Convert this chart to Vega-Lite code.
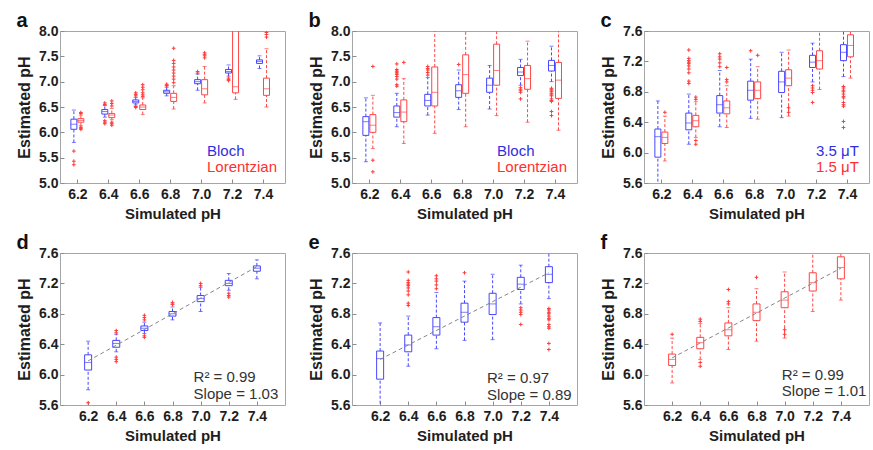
{
  "$schema": "https://vega.github.io/schema/vega-lite/v6.json",
  "padding": {"left": 16, "top": 10, "right": 0, "bottom": 0},
  "background": "white",
  "config": {
    "font": "Liberation Sans",
    "view": {"stroke": "#a6a6a6", "strokeWidth": 1},
    "axis": {"domain": false, "grid": false, "tickSize": 4, "offset": -4, "tickColor": "#8c8c8c", "labelOverlap": false, "labelFont": "Liberation Sans", "labelFontSize": 14, "labelFontWeight": "bold", "labelColor": "#1e1e1e", "titleFont": "Liberation Sans", "titleFontSize": 15, "titleFontWeight": "bold", "titleColor": "#1e1e1e"},
    "axisX": {"labelPadding": 4, "titlePadding": 5},
    "axisY": {"labelPadding": 2, "titlePadding": 6, "titleFontSize": 16},
    "legend": {"title": null, "orient": "none", "labelFont": "Liberation Sans", "symbolSize": 1, "symbolStrokeWidth": 0, "symbolOpacity": 0, "labelOffset": 1, "rowPadding": -6, "padding": 0, "labelLimit": 300},
    "title": {"fontSize": 20, "fontWeight": "bold", "anchor": "start", "frame": "bounds", "offset": -7, "color": "#111111", "font": "Liberation Sans"}
  },
  "datasets": {
    "boxes": [
      {"panel":"a","series":"Bloch","sim":6.2,"lo":5.80,"q1":6.06,"med":6.16,"q3":6.26,"hi":6.44},
      {"panel":"a","series":"Bloch","sim":6.4,"lo":6.30,"q1":6.36,"med":6.41,"q3":6.45,"hi":6.53},
      {"panel":"a","series":"Bloch","sim":6.6,"lo":6.54,"q1":6.58,"med":6.61,"q3":6.64,"hi":6.69},
      {"panel":"a","series":"Bloch","sim":6.8,"lo":6.72,"q1":6.77,"med":6.80,"q3":6.83,"hi":6.89},
      {"panel":"a","series":"Bloch","sim":7.0,"lo":6.83,"q1":6.96,"med":7.00,"q3":7.04,"hi":7.15},
      {"panel":"a","series":"Bloch","sim":7.2,"lo":7.11,"q1":7.17,"med":7.20,"q3":7.24,"hi":7.33},
      {"panel":"a","series":"Bloch","sim":7.4,"lo":7.26,"q1":7.36,"med":7.40,"q3":7.43,"hi":7.51},
      {"panel":"a","series":"Lorentzian","sim":6.2,"lo":6.13,"q1":6.20,"med":6.235,"q3":6.27,"hi":6.34},
      {"panel":"a","series":"Lorentzian","sim":6.4,"lo":6.25,"q1":6.29,"med":6.34,"q3":6.37,"hi":6.47},
      {"panel":"a","series":"Lorentzian","sim":6.6,"lo":6.35,"q1":6.45,"med":6.50,"q3":6.54,"hi":6.68},
      {"panel":"a","series":"Lorentzian","sim":6.8,"lo":6.46,"q1":6.61,"med":6.69,"q3":6.77,"hi":6.92},
      {"panel":"a","series":"Lorentzian","sim":7.0,"lo":6.58,"q1":6.74,"med":6.86,"q3":7.04,"hi":7.30},
      {"panel":"a","series":"Lorentzian","sim":7.2,"lo":6.65,"q1":6.78,"med":6.90,"q3":8.60,"hi":9.50},
      {"panel":"a","series":"Lorentzian","sim":7.4,"lo":6.50,"q1":6.73,"med":6.86,"q3":7.07,"hi":7.65},
      {"panel":"b","series":"Bloch","sim":6.2,"lo":5.42,"q1":5.94,"med":6.21,"q3":6.31,"hi":6.68},
      {"panel":"b","series":"Bloch","sim":6.4,"lo":6.11,"q1":6.30,"med":6.39,"q3":6.52,"hi":6.77},
      {"panel":"b","series":"Bloch","sim":6.6,"lo":6.34,"q1":6.52,"med":6.63,"q3":6.75,"hi":7.08},
      {"panel":"b","series":"Bloch","sim":6.8,"lo":6.45,"q1":6.69,"med":6.82,"q3":6.94,"hi":7.23},
      {"panel":"b","series":"Bloch","sim":7.0,"lo":6.46,"q1":6.79,"med":6.93,"q3":7.07,"hi":7.32},
      {"panel":"b","series":"Bloch","sim":7.2,"lo":6.93,"q1":7.12,"med":7.19,"q3":7.28,"hi":7.44},
      {"panel":"b","series":"Bloch","sim":7.4,"lo":7.00,"q1":7.21,"med":7.32,"q3":7.42,"hi":7.70},
      {"panel":"b","series":"Lorentzian","sim":6.2,"lo":5.68,"q1":6.00,"med":6.14,"q3":6.35,"hi":6.73},
      {"panel":"b","series":"Lorentzian","sim":6.4,"lo":5.78,"q1":6.21,"med":6.40,"q3":6.64,"hi":7.06},
      {"panel":"b","series":"Lorentzian","sim":6.6,"lo":5.98,"q1":6.52,"med":6.79,"q3":7.29,"hi":8.30},
      {"panel":"b","series":"Lorentzian","sim":6.8,"lo":6.11,"q1":6.77,"med":7.14,"q3":7.53,"hi":8.50},
      {"panel":"b","series":"Lorentzian","sim":7.0,"lo":6.33,"q1":6.93,"med":7.22,"q3":7.74,"hi":8.60},
      {"panel":"b","series":"Lorentzian","sim":7.2,"lo":6.20,"q1":6.85,"med":7.06,"q3":7.32,"hi":7.80},
      {"panel":"b","series":"Lorentzian","sim":7.4,"lo":6.04,"q1":6.67,"med":7.03,"q3":7.38,"hi":8.50},
      {"panel":"c","series":"3.5 μT","sim":6.2,"lo":5.42,"q1":5.94,"med":6.21,"q3":6.31,"hi":6.68},
      {"panel":"c","series":"3.5 μT","sim":6.4,"lo":6.11,"q1":6.30,"med":6.39,"q3":6.52,"hi":6.77},
      {"panel":"c","series":"3.5 μT","sim":6.6,"lo":6.34,"q1":6.52,"med":6.63,"q3":6.75,"hi":7.08},
      {"panel":"c","series":"3.5 μT","sim":6.8,"lo":6.45,"q1":6.69,"med":6.82,"q3":6.94,"hi":7.23},
      {"panel":"c","series":"3.5 μT","sim":7.0,"lo":6.46,"q1":6.79,"med":6.93,"q3":7.07,"hi":7.32},
      {"panel":"c","series":"3.5 μT","sim":7.2,"lo":6.93,"q1":7.12,"med":7.19,"q3":7.28,"hi":7.44},
      {"panel":"c","series":"3.5 μT","sim":7.4,"lo":7.00,"q1":7.21,"med":7.32,"q3":7.42,"hi":7.70},
      {"panel":"c","series":"1.5 μT","sim":6.2,"lo":5.89,"q1":6.12,"med":6.20,"q3":6.27,"hi":6.48},
      {"panel":"c","series":"1.5 μT","sim":6.4,"lo":6.20,"q1":6.34,"med":6.42,"q3":6.49,"hi":6.67},
      {"panel":"c","series":"1.5 μT","sim":6.6,"lo":6.33,"q1":6.51,"med":6.59,"q3":6.68,"hi":6.88},
      {"panel":"c","series":"1.5 μT","sim":6.8,"lo":6.44,"q1":6.71,"med":6.82,"q3":6.93,"hi":7.13},
      {"panel":"c","series":"1.5 μT","sim":7.0,"lo":6.48,"q1":6.88,"med":6.98,"q3":7.09,"hi":7.35},
      {"panel":"c","series":"1.5 μT","sim":7.2,"lo":6.83,"q1":7.10,"med":7.21,"q3":7.34,"hi":7.75},
      {"panel":"c","series":"1.5 μT","sim":7.4,"lo":6.98,"q1":7.26,"med":7.41,"q3":7.55,"hi":7.90},
      {"panel":"d","series":"Bloch","sim":6.2,"lo":5.80,"q1":6.06,"med":6.16,"q3":6.26,"hi":6.44},
      {"panel":"d","series":"Bloch","sim":6.4,"lo":6.30,"q1":6.36,"med":6.41,"q3":6.45,"hi":6.53},
      {"panel":"d","series":"Bloch","sim":6.6,"lo":6.54,"q1":6.58,"med":6.61,"q3":6.64,"hi":6.69},
      {"panel":"d","series":"Bloch","sim":6.8,"lo":6.72,"q1":6.77,"med":6.80,"q3":6.83,"hi":6.89},
      {"panel":"d","series":"Bloch","sim":7.0,"lo":6.83,"q1":6.96,"med":7.00,"q3":7.04,"hi":7.15},
      {"panel":"d","series":"Bloch","sim":7.2,"lo":7.11,"q1":7.17,"med":7.20,"q3":7.24,"hi":7.33},
      {"panel":"d","series":"Bloch","sim":7.4,"lo":7.26,"q1":7.36,"med":7.40,"q3":7.43,"hi":7.51},
      {"panel":"e","series":"3.5 μT","sim":6.2,"lo":5.42,"q1":5.94,"med":6.21,"q3":6.31,"hi":6.68},
      {"panel":"e","series":"3.5 μT","sim":6.4,"lo":6.11,"q1":6.30,"med":6.39,"q3":6.52,"hi":6.77},
      {"panel":"e","series":"3.5 μT","sim":6.6,"lo":6.34,"q1":6.52,"med":6.63,"q3":6.75,"hi":7.08},
      {"panel":"e","series":"3.5 μT","sim":6.8,"lo":6.45,"q1":6.69,"med":6.82,"q3":6.94,"hi":7.23},
      {"panel":"e","series":"3.5 μT","sim":7.0,"lo":6.46,"q1":6.79,"med":6.93,"q3":7.07,"hi":7.32},
      {"panel":"e","series":"3.5 μT","sim":7.2,"lo":6.93,"q1":7.12,"med":7.19,"q3":7.28,"hi":7.44},
      {"panel":"e","series":"3.5 μT","sim":7.4,"lo":7.00,"q1":7.21,"med":7.32,"q3":7.42,"hi":7.70},
      {"panel":"f","series":"1.5 μT","sim":6.2,"lo":5.89,"q1":6.12,"med":6.20,"q3":6.27,"hi":6.48},
      {"panel":"f","series":"1.5 μT","sim":6.4,"lo":6.20,"q1":6.34,"med":6.42,"q3":6.49,"hi":6.67},
      {"panel":"f","series":"1.5 μT","sim":6.6,"lo":6.33,"q1":6.51,"med":6.59,"q3":6.68,"hi":6.88},
      {"panel":"f","series":"1.5 μT","sim":6.8,"lo":6.44,"q1":6.71,"med":6.82,"q3":6.93,"hi":7.13},
      {"panel":"f","series":"1.5 μT","sim":7.0,"lo":6.48,"q1":6.88,"med":6.98,"q3":7.09,"hi":7.35},
      {"panel":"f","series":"1.5 μT","sim":7.2,"lo":6.83,"q1":7.10,"med":7.21,"q3":7.34,"hi":7.75},
      {"panel":"f","series":"1.5 μT","sim":7.4,"lo":6.98,"q1":7.26,"med":7.41,"q3":7.55,"hi":7.90}
    ],
    "outliers": [
      {"panel":"a","series":"Bloch","sim":6.2,"v":5.63},{"panel":"a","series":"Bloch","sim":6.2,"v":5.43},{"panel":"a","series":"Bloch","sim":6.2,"v":5.36},
      {"panel":"a","series":"Bloch","sim":6.4,"v":6.58},{"panel":"a","series":"Bloch","sim":6.4,"v":6.55},{"panel":"a","series":"Bloch","sim":6.4,"v":6.23},{"panel":"a","series":"Bloch","sim":6.4,"v":6.20},{"panel":"a","series":"Bloch","sim":6.4,"v":6.17},
      {"panel":"a","series":"Bloch","sim":6.6,"v":6.78},{"panel":"a","series":"Bloch","sim":6.6,"v":6.75},{"panel":"a","series":"Bloch","sim":6.6,"v":6.72},{"panel":"a","series":"Bloch","sim":6.6,"v":6.51},{"panel":"a","series":"Bloch","sim":6.6,"v":6.49},
      {"panel":"a","series":"Bloch","sim":6.8,"v":6.95},{"panel":"a","series":"Bloch","sim":6.8,"v":6.93},{"panel":"a","series":"Bloch","sim":6.8,"v":6.92},
      {"panel":"a","series":"Bloch","sim":7.0,"v":7.20},{"panel":"a","series":"Bloch","sim":7.0,"v":7.17},
      {"panel":"a","series":"Bloch","sim":7.2,"v":7.07},{"panel":"a","series":"Bloch","sim":7.2,"v":7.04},{"panel":"a","series":"Bloch","sim":7.2,"v":7.02},
      {"panel":"a","series":"Lorentzian","sim":6.2,"v":6.39},{"panel":"a","series":"Lorentzian","sim":6.2,"v":6.37},{"panel":"a","series":"Lorentzian","sim":6.2,"v":6.10},{"panel":"a","series":"Lorentzian","sim":6.2,"v":6.08},{"panel":"a","series":"Lorentzian","sim":6.2,"v":6.06},
      {"panel":"a","series":"Lorentzian","sim":6.4,"v":6.52},{"panel":"a","series":"Lorentzian","sim":6.4,"v":6.57},{"panel":"a","series":"Lorentzian","sim":6.4,"v":6.62},{"panel":"a","series":"Lorentzian","sim":6.4,"v":6.20},{"panel":"a","series":"Lorentzian","sim":6.4,"v":6.17},{"panel":"a","series":"Lorentzian","sim":6.4,"v":6.14},
      {"panel":"a","series":"Lorentzian","sim":6.6,"v":6.71},{"panel":"a","series":"Lorentzian","sim":6.6,"v":6.74},{"panel":"a","series":"Lorentzian","sim":6.6,"v":6.78},{"panel":"a","series":"Lorentzian","sim":6.6,"v":6.84},{"panel":"a","series":"Lorentzian","sim":6.6,"v":6.89},{"panel":"a","series":"Lorentzian","sim":6.6,"v":6.94},
      {"panel":"a","series":"Lorentzian","sim":6.8,"v":6.98},{"panel":"a","series":"Lorentzian","sim":6.8,"v":7.05},{"panel":"a","series":"Lorentzian","sim":6.8,"v":7.11},{"panel":"a","series":"Lorentzian","sim":6.8,"v":7.17},{"panel":"a","series":"Lorentzian","sim":6.8,"v":7.23},{"panel":"a","series":"Lorentzian","sim":6.8,"v":7.29},{"panel":"a","series":"Lorentzian","sim":6.8,"v":7.36},{"panel":"a","series":"Lorentzian","sim":6.8,"v":7.42},{"panel":"a","series":"Lorentzian","sim":6.8,"v":7.66},
      {"panel":"a","series":"Lorentzian","sim":7.0,"v":7.47},{"panel":"a","series":"Lorentzian","sim":7.0,"v":7.51},{"panel":"a","series":"Lorentzian","sim":7.0,"v":7.54},{"panel":"a","series":"Lorentzian","sim":7.0,"v":7.57},
      {"panel":"a","series":"Lorentzian","sim":7.4,"v":7.88},{"panel":"a","series":"Lorentzian","sim":7.4,"v":7.93},{"panel":"a","series":"Lorentzian","sim":7.4,"v":7.97},
      {"panel":"b","series":"Bloch","sim":6.4,"v":6.91},{"panel":"b","series":"Bloch","sim":6.4,"v":6.94},{"panel":"b","series":"Bloch","sim":6.4,"v":7.05},{"panel":"b","series":"Bloch","sim":6.4,"v":7.10},{"panel":"b","series":"Bloch","sim":6.4,"v":7.14},{"panel":"b","series":"Bloch","sim":6.4,"v":7.17},{"panel":"b","series":"Bloch","sim":6.4,"v":7.19},{"panel":"b","series":"Bloch","sim":6.4,"v":7.21},{"panel":"b","series":"Bloch","sim":6.4,"v":7.24},{"panel":"b","series":"Bloch","sim":6.4,"v":7.35},
      {"panel":"b","series":"Bloch","sim":6.6,"v":7.13},{"panel":"b","series":"Bloch","sim":6.6,"v":7.18},{"panel":"b","series":"Bloch","sim":6.6,"v":7.23},{"panel":"b","series":"Bloch","sim":6.6,"v":7.26},{"panel":"b","series":"Bloch","sim":6.6,"v":7.30},
      {"panel":"b","series":"Bloch","sim":6.8,"v":7.34},
      {"panel":"b","series":"Bloch","sim":7.2,"v":6.88},{"panel":"b","series":"Bloch","sim":7.2,"v":6.85},{"panel":"b","series":"Bloch","sim":7.2,"v":6.82},{"panel":"b","series":"Bloch","sim":7.2,"v":6.79},{"panel":"b","series":"Bloch","sim":7.2,"v":6.66},
      {"panel":"b","series":"Bloch","sim":7.4,"v":6.87},{"panel":"b","series":"Bloch","sim":7.4,"v":6.85},{"panel":"b","series":"Bloch","sim":7.4,"v":6.82},{"panel":"b","series":"Bloch","sim":7.4,"v":6.80},{"panel":"b","series":"Bloch","sim":7.4,"v":6.77},{"panel":"b","series":"Bloch","sim":7.4,"v":6.74},{"panel":"b","series":"Bloch","sim":7.4,"v":6.72},{"panel":"b","series":"Bloch","sim":7.4,"v":6.66},{"panel":"b","series":"Bloch","sim":7.4,"v":6.63},{"panel":"b","series":"Bloch","sim":7.4,"v":6.61},{"panel":"b","series":"Bloch","sim":7.4,"v":6.41},{"panel":"b","series":"Bloch","sim":7.4,"v":6.33},
      {"panel":"b","series":"Lorentzian","sim":6.2,"v":7.30},{"panel":"b","series":"Lorentzian","sim":6.2,"v":5.45},{"panel":"b","series":"Lorentzian","sim":6.2,"v":5.22},
      {"panel":"b","series":"Lorentzian","sim":6.4,"v":7.38},
      {"panel":"c","series":"3.5 μT","sim":6.4,"v":6.91},{"panel":"c","series":"3.5 μT","sim":6.4,"v":6.94},{"panel":"c","series":"3.5 μT","sim":6.4,"v":7.05},{"panel":"c","series":"3.5 μT","sim":6.4,"v":7.10},{"panel":"c","series":"3.5 μT","sim":6.4,"v":7.14},{"panel":"c","series":"3.5 μT","sim":6.4,"v":7.17},{"panel":"c","series":"3.5 μT","sim":6.4,"v":7.19},{"panel":"c","series":"3.5 μT","sim":6.4,"v":7.21},{"panel":"c","series":"3.5 μT","sim":6.4,"v":7.24},{"panel":"c","series":"3.5 μT","sim":6.4,"v":7.35},
      {"panel":"c","series":"3.5 μT","sim":6.6,"v":7.13},{"panel":"c","series":"3.5 μT","sim":6.6,"v":7.18},{"panel":"c","series":"3.5 μT","sim":6.6,"v":7.23},{"panel":"c","series":"3.5 μT","sim":6.6,"v":7.26},{"panel":"c","series":"3.5 μT","sim":6.6,"v":7.30},
      {"panel":"c","series":"3.5 μT","sim":6.8,"v":7.34},
      {"panel":"c","series":"3.5 μT","sim":7.2,"v":6.88},{"panel":"c","series":"3.5 μT","sim":7.2,"v":6.85},{"panel":"c","series":"3.5 μT","sim":7.2,"v":6.82},{"panel":"c","series":"3.5 μT","sim":7.2,"v":6.79},{"panel":"c","series":"3.5 μT","sim":7.2,"v":6.66},
      {"panel":"c","series":"3.5 μT","sim":7.4,"v":6.87},{"panel":"c","series":"3.5 μT","sim":7.4,"v":6.85},{"panel":"c","series":"3.5 μT","sim":7.4,"v":6.82},{"panel":"c","series":"3.5 μT","sim":7.4,"v":6.80},{"panel":"c","series":"3.5 μT","sim":7.4,"v":6.77},{"panel":"c","series":"3.5 μT","sim":7.4,"v":6.74},{"panel":"c","series":"3.5 μT","sim":7.4,"v":6.72},{"panel":"c","series":"3.5 μT","sim":7.4,"v":6.66},{"panel":"c","series":"3.5 μT","sim":7.4,"v":6.63},{"panel":"c","series":"3.5 μT","sim":7.4,"v":6.61},{"panel":"c","series":"3.5 μT","sim":7.4,"v":6.41},{"panel":"c","series":"3.5 μT","sim":7.4,"v":6.33},
      {"panel":"c","series":"1.5 μT","sim":6.2,"v":6.53},
      {"panel":"c","series":"1.5 μT","sim":6.4,"v":6.70},{"panel":"c","series":"1.5 μT","sim":6.4,"v":6.73},{"panel":"c","series":"1.5 μT","sim":6.4,"v":6.16},{"panel":"c","series":"1.5 μT","sim":6.4,"v":6.11},
      {"panel":"c","series":"1.5 μT","sim":6.6,"v":6.93},{"panel":"c","series":"1.5 μT","sim":6.6,"v":6.96},{"panel":"c","series":"1.5 μT","sim":6.6,"v":7.12},
      {"panel":"c","series":"1.5 μT","sim":6.8,"v":7.28},
      {"panel":"c","series":"1.5 μT","sim":7.0,"v":6.59},{"panel":"c","series":"1.5 μT","sim":7.0,"v":6.53},
      {"panel":"d","series":"Bloch","sim":6.2,"v":5.63},
      {"panel":"d","series":"Bloch","sim":6.4,"v":6.58},{"panel":"d","series":"Bloch","sim":6.4,"v":6.55},{"panel":"d","series":"Bloch","sim":6.4,"v":6.23},{"panel":"d","series":"Bloch","sim":6.4,"v":6.20},{"panel":"d","series":"Bloch","sim":6.4,"v":6.17},
      {"panel":"d","series":"Bloch","sim":6.6,"v":6.78},{"panel":"d","series":"Bloch","sim":6.6,"v":6.75},{"panel":"d","series":"Bloch","sim":6.6,"v":6.72},{"panel":"d","series":"Bloch","sim":6.6,"v":6.51},{"panel":"d","series":"Bloch","sim":6.6,"v":6.49},
      {"panel":"d","series":"Bloch","sim":6.8,"v":6.95},{"panel":"d","series":"Bloch","sim":6.8,"v":6.93},{"panel":"d","series":"Bloch","sim":6.8,"v":6.92},
      {"panel":"d","series":"Bloch","sim":7.0,"v":7.20},{"panel":"d","series":"Bloch","sim":7.0,"v":7.17},
      {"panel":"d","series":"Bloch","sim":7.2,"v":7.07},{"panel":"d","series":"Bloch","sim":7.2,"v":7.04},{"panel":"d","series":"Bloch","sim":7.2,"v":7.02},
      {"panel":"e","series":"3.5 μT","sim":6.4,"v":6.91},{"panel":"e","series":"3.5 μT","sim":6.4,"v":6.94},{"panel":"e","series":"3.5 μT","sim":6.4,"v":7.05},{"panel":"e","series":"3.5 μT","sim":6.4,"v":7.10},{"panel":"e","series":"3.5 μT","sim":6.4,"v":7.14},{"panel":"e","series":"3.5 μT","sim":6.4,"v":7.17},{"panel":"e","series":"3.5 μT","sim":6.4,"v":7.19},{"panel":"e","series":"3.5 μT","sim":6.4,"v":7.21},{"panel":"e","series":"3.5 μT","sim":6.4,"v":7.24},{"panel":"e","series":"3.5 μT","sim":6.4,"v":7.35},
      {"panel":"e","series":"3.5 μT","sim":6.6,"v":7.13},{"panel":"e","series":"3.5 μT","sim":6.6,"v":7.18},{"panel":"e","series":"3.5 μT","sim":6.6,"v":7.23},{"panel":"e","series":"3.5 μT","sim":6.6,"v":7.26},{"panel":"e","series":"3.5 μT","sim":6.6,"v":7.30},
      {"panel":"e","series":"3.5 μT","sim":6.8,"v":7.34},
      {"panel":"e","series":"3.5 μT","sim":7.2,"v":6.88},{"panel":"e","series":"3.5 μT","sim":7.2,"v":6.85},{"panel":"e","series":"3.5 μT","sim":7.2,"v":6.82},{"panel":"e","series":"3.5 μT","sim":7.2,"v":6.79},{"panel":"e","series":"3.5 μT","sim":7.2,"v":6.66},
      {"panel":"e","series":"3.5 μT","sim":7.4,"v":6.87},{"panel":"e","series":"3.5 μT","sim":7.4,"v":6.85},{"panel":"e","series":"3.5 μT","sim":7.4,"v":6.82},{"panel":"e","series":"3.5 μT","sim":7.4,"v":6.80},{"panel":"e","series":"3.5 μT","sim":7.4,"v":6.77},{"panel":"e","series":"3.5 μT","sim":7.4,"v":6.74},{"panel":"e","series":"3.5 μT","sim":7.4,"v":6.72},{"panel":"e","series":"3.5 μT","sim":7.4,"v":6.66},{"panel":"e","series":"3.5 μT","sim":7.4,"v":6.63},{"panel":"e","series":"3.5 μT","sim":7.4,"v":6.61},{"panel":"e","series":"3.5 μT","sim":7.4,"v":6.41},{"panel":"e","series":"3.5 μT","sim":7.4,"v":6.33},
      {"panel":"f","series":"1.5 μT","sim":6.2,"v":6.53},
      {"panel":"f","series":"1.5 μT","sim":6.4,"v":6.70},{"panel":"f","series":"1.5 μT","sim":6.4,"v":6.73},{"panel":"f","series":"1.5 μT","sim":6.4,"v":6.16},{"panel":"f","series":"1.5 μT","sim":6.4,"v":6.11},
      {"panel":"f","series":"1.5 μT","sim":6.6,"v":6.93},{"panel":"f","series":"1.5 μT","sim":6.6,"v":6.96},{"panel":"f","series":"1.5 μT","sim":6.6,"v":7.12},
      {"panel":"f","series":"1.5 μT","sim":6.8,"v":7.28},
      {"panel":"f","series":"1.5 μT","sim":7.0,"v":6.59},{"panel":"f","series":"1.5 μT","sim":7.0,"v":6.53}
    ],
    "fits": [
      {"panel":"d","sim":6.2,"fit":6.18},{"panel":"d","sim":7.4,"fit":7.42},
      {"panel":"e","sim":6.2,"fit":6.20},{"panel":"e","sim":7.4,"fit":7.34},
      {"panel":"f","sim":6.2,"fit":6.22},{"panel":"f","sim":7.4,"fit":7.40}
    ],
    "notes": [
      {"panel":"d","r2":"R² = 0.99","slope":"Slope = 1.03"},
      {"panel":"e","r2":"R² = 0.97","slope":"Slope = 0.89"},
      {"panel":"f","r2":"R² = 0.99","slope":"Slope = 1.01"}
    ]
  },
  "resolve": {"scale": {"x": "independent", "y": "independent", "color": "independent"}, "legend": {"color": "independent"}},
  "spacing": 10,
  "vconcat": [
    {
      "spacing": 22,
      "resolve": {"scale": {"x": "independent", "y": "independent", "color": "independent"}, "legend": {"color": "independent"}},
      "hconcat": [
        {
          "title": {"text": "a"},
          "width": 225, "height": 152,
          "layer": [
            {"data": {"name": "boxes"}, "transform": [{"filter": "datum.panel === 'a' && datum.series === 'Bloch'"}],
             "encoding": {"x": {"field": "sim", "type": "quantitative", "scale": {"domain": [6.12, 7.51]}, "axis": {"values": [6.2,6.4,6.6,6.8,7.0,7.2,7.4], "format": ".1f", "labelFlush": false, "tickCount": 10}, "title": "Simulated pH"}},
             "layer": [
              {"mark": {"type": "rule", "xOffset": -3.5, "color": "#4646ff", "strokeDash": [3,2], "clip": true}, "encoding": {"y": {"field": "lo", "type": "quantitative", "scale": {"domain": [5,8]}, "axis": {"values": [5,5.5,6,6.5,7,7.5,8], "format": ".1f", "tickCount": 10}, "title": "Estimated pH"}, "y2": {"field": "q1"}}},
              {"mark": {"type": "rule", "xOffset": -3.5, "color": "#4646ff", "strokeDash": [3,2], "clip": true}, "encoding": {"y": {"field": "q3", "type": "quantitative", "scale": {"domain": [5,8]}}, "y2": {"field": "hi"}}},
              {"mark": {"type": "tick", "orient": "horizontal", "size": 4, "thickness": 1, "xOffset": -3.5, "color": "#4646ff", "clip": true}, "encoding": {"y": {"field": "lo", "type": "quantitative", "scale": {"domain": [5,8]}}}},
              {"mark": {"type": "tick", "orient": "horizontal", "size": 4, "thickness": 1, "xOffset": -3.5, "color": "#4646ff", "clip": true}, "encoding": {"y": {"field": "hi", "type": "quantitative", "scale": {"domain": [5,8]}}}},
              {"mark": {"type": "bar", "width": 6, "filled": false, "strokeWidth": 1, "xOffset": -3.5, "clip": true}, "encoding": {"y": {"field": "q1", "type": "quantitative", "scale": {"domain": [5,8]}}, "y2": {"field": "q3"}, "color": {"field": "series", "type": "nominal", "scale": {"domain": ["Bloch", "Lorentzian"], "range": ["#4646ff", "#ff4646"]}, "legend": {"legendX": 131, "legendY": 112, "labelFontSize": 15, "labelColor": {"expr": "datum.index === 0 ? '#2f2fe0' : '#ff3030'"}}}}},
              {"mark": {"type": "tick", "orient": "horizontal", "size": 6, "thickness": 1, "xOffset": -3.5, "color": "#4646ff", "clip": true}, "encoding": {"y": {"field": "med", "type": "quantitative", "scale": {"domain": [5,8]}}}}
             ]},
            {"data": {"name": "boxes"}, "transform": [{"filter": "datum.panel === 'a' && datum.series === 'Lorentzian'"}],
             "encoding": {"x": {"field": "sim", "type": "quantitative", "scale": {"domain": [6.12, 7.51]}}},
             "layer": [
              {"mark": {"type": "rule", "xOffset": 3.5, "color": "#ff4646", "strokeDash": [3,2], "clip": true}, "encoding": {"y": {"field": "lo", "type": "quantitative", "scale": {"domain": [5,8]}}, "y2": {"field": "q1"}}},
              {"mark": {"type": "rule", "xOffset": 3.5, "color": "#ff4646", "strokeDash": [3,2], "clip": true}, "encoding": {"y": {"field": "q3", "type": "quantitative", "scale": {"domain": [5,8]}}, "y2": {"field": "hi"}}},
              {"mark": {"type": "tick", "orient": "horizontal", "size": 4, "thickness": 1, "xOffset": 3.5, "color": "#ff4646", "clip": true}, "encoding": {"y": {"field": "lo", "type": "quantitative", "scale": {"domain": [5,8]}}}},
              {"mark": {"type": "tick", "orient": "horizontal", "size": 4, "thickness": 1, "xOffset": 3.5, "color": "#ff4646", "clip": true}, "encoding": {"y": {"field": "hi", "type": "quantitative", "scale": {"domain": [5,8]}}}},
              {"mark": {"type": "bar", "width": 6, "filled": false, "strokeWidth": 1, "xOffset": 3.5, "clip": true}, "encoding": {"y": {"field": "q1", "type": "quantitative", "scale": {"domain": [5,8]}}, "y2": {"field": "q3"}, "color": {"field": "series", "type": "nominal", "scale": {"domain": ["Bloch", "Lorentzian"], "range": ["#4646ff", "#ff4646"]}}}},
              {"mark": {"type": "tick", "orient": "horizontal", "size": 6, "thickness": 1, "xOffset": 3.5, "color": "#ff4646", "clip": true}, "encoding": {"y": {"field": "med", "type": "quantitative", "scale": {"domain": [5,8]}}}}
             ]},
            {"data": {"name": "outliers"}, "transform": [{"filter": "datum.panel === 'a' && datum.series === 'Bloch'"}], "mark": {"type": "point", "shape": "M-1,0H1M0,-1V1", "filled": false, "size": 14, "strokeWidth": 1, "color": "#ff3a3a", "opacity": 1, "xOffset": -3.5, "clip": true}, "encoding": {"x": {"field": "sim", "type": "quantitative", "scale": {"domain": [6.12, 7.51]}}, "y": {"field": "v", "type": "quantitative", "scale": {"domain": [5,8]}}}},
            {"data": {"name": "outliers"}, "transform": [{"filter": "datum.panel === 'a' && datum.series === 'Lorentzian'"}], "mark": {"type": "point", "shape": "M-1,0H1M0,-1V1", "filled": false, "size": 14, "strokeWidth": 1, "color": "#ff3a3a", "opacity": 1, "xOffset": 3.5, "clip": true}, "encoding": {"x": {"field": "sim", "type": "quantitative", "scale": {"domain": [6.12, 7.51]}}, "y": {"field": "v", "type": "quantitative", "scale": {"domain": [5,8]}}}}
          ]
        },
        {
          "title": {"text": "b"},
          "width": 225, "height": 152,
          "layer": [
            {"data": {"name": "boxes"}, "transform": [{"filter": "datum.panel === 'b' && datum.series === 'Bloch'"}],
             "encoding": {"x": {"field": "sim", "type": "quantitative", "scale": {"domain": [6.12, 7.51]}, "axis": {"values": [6.2,6.4,6.6,6.8,7.0,7.2,7.4], "format": ".1f", "labelFlush": false, "tickCount": 10}, "title": "Simulated pH"}},
             "layer": [
              {"mark": {"type": "rule", "xOffset": -3.5, "color": "#4646ff", "strokeDash": [3,2], "clip": true}, "encoding": {"y": {"field": "lo", "type": "quantitative", "scale": {"domain": [5,8]}, "axis": {"values": [5,5.5,6,6.5,7,7.5,8], "format": ".1f", "tickCount": 10}, "title": "Estimated pH"}, "y2": {"field": "q1"}}},
              {"mark": {"type": "rule", "xOffset": -3.5, "color": "#4646ff", "strokeDash": [3,2], "clip": true}, "encoding": {"y": {"field": "q3", "type": "quantitative", "scale": {"domain": [5,8]}}, "y2": {"field": "hi"}}},
              {"mark": {"type": "tick", "orient": "horizontal", "size": 4, "thickness": 1, "xOffset": -3.5, "color": "#4646ff", "clip": true}, "encoding": {"y": {"field": "lo", "type": "quantitative", "scale": {"domain": [5,8]}}}},
              {"mark": {"type": "tick", "orient": "horizontal", "size": 4, "thickness": 1, "xOffset": -3.5, "color": "#4646ff", "clip": true}, "encoding": {"y": {"field": "hi", "type": "quantitative", "scale": {"domain": [5,8]}}}},
              {"mark": {"type": "bar", "width": 6, "filled": false, "strokeWidth": 1, "xOffset": -3.5, "clip": true}, "encoding": {"y": {"field": "q1", "type": "quantitative", "scale": {"domain": [5,8]}}, "y2": {"field": "q3"}, "color": {"field": "series", "type": "nominal", "scale": {"domain": ["Bloch", "Lorentzian"], "range": ["#4646ff", "#ff4646"]}, "legend": {"legendX": 129, "legendY": 112, "labelFontSize": 15, "labelColor": {"expr": "datum.index === 0 ? '#2f2fe0' : '#ff3030'"}}}}},
              {"mark": {"type": "tick", "orient": "horizontal", "size": 6, "thickness": 1, "xOffset": -3.5, "color": "#4646ff", "clip": true}, "encoding": {"y": {"field": "med", "type": "quantitative", "scale": {"domain": [5,8]}}}}
             ]},
            {"data": {"name": "boxes"}, "transform": [{"filter": "datum.panel === 'b' && datum.series === 'Lorentzian'"}],
             "encoding": {"x": {"field": "sim", "type": "quantitative", "scale": {"domain": [6.12, 7.51]}}},
             "layer": [
              {"mark": {"type": "rule", "xOffset": 3.5, "color": "#ff4646", "strokeDash": [3,2], "clip": true}, "encoding": {"y": {"field": "lo", "type": "quantitative", "scale": {"domain": [5,8]}}, "y2": {"field": "q1"}}},
              {"mark": {"type": "rule", "xOffset": 3.5, "color": "#ff4646", "strokeDash": [3,2], "clip": true}, "encoding": {"y": {"field": "q3", "type": "quantitative", "scale": {"domain": [5,8]}}, "y2": {"field": "hi"}}},
              {"mark": {"type": "tick", "orient": "horizontal", "size": 4, "thickness": 1, "xOffset": 3.5, "color": "#ff4646", "clip": true}, "encoding": {"y": {"field": "lo", "type": "quantitative", "scale": {"domain": [5,8]}}}},
              {"mark": {"type": "tick", "orient": "horizontal", "size": 4, "thickness": 1, "xOffset": 3.5, "color": "#ff4646", "clip": true}, "encoding": {"y": {"field": "hi", "type": "quantitative", "scale": {"domain": [5,8]}}}},
              {"mark": {"type": "bar", "width": 6, "filled": false, "strokeWidth": 1, "xOffset": 3.5, "clip": true}, "encoding": {"y": {"field": "q1", "type": "quantitative", "scale": {"domain": [5,8]}}, "y2": {"field": "q3"}, "color": {"field": "series", "type": "nominal", "scale": {"domain": ["Bloch", "Lorentzian"], "range": ["#4646ff", "#ff4646"]}}}},
              {"mark": {"type": "tick", "orient": "horizontal", "size": 6, "thickness": 1, "xOffset": 3.5, "color": "#ff4646", "clip": true}, "encoding": {"y": {"field": "med", "type": "quantitative", "scale": {"domain": [5,8]}}}}
             ]},
            {"data": {"name": "outliers"}, "transform": [{"filter": "datum.panel === 'b' && datum.series === 'Bloch'"}], "mark": {"type": "point", "shape": "M-1,0H1M0,-1V1", "filled": false, "size": 14, "strokeWidth": 1, "color": "#ff3a3a", "opacity": 1, "xOffset": -3.5, "clip": true}, "encoding": {"x": {"field": "sim", "type": "quantitative", "scale": {"domain": [6.12, 7.51]}}, "y": {"field": "v", "type": "quantitative", "scale": {"domain": [5,8]}}}},
            {"data": {"name": "outliers"}, "transform": [{"filter": "datum.panel === 'b' && datum.series === 'Lorentzian'"}], "mark": {"type": "point", "shape": "M-1,0H1M0,-1V1", "filled": false, "size": 14, "strokeWidth": 1, "color": "#ff3a3a", "opacity": 1, "xOffset": 3.5, "clip": true}, "encoding": {"x": {"field": "sim", "type": "quantitative", "scale": {"domain": [6.12, 7.51]}}, "y": {"field": "v", "type": "quantitative", "scale": {"domain": [5,8]}}}}
          ]
        },
        {
          "title": {"text": "c"},
          "width": 225, "height": 152,
          "layer": [
            {"data": {"name": "boxes"}, "transform": [{"filter": "datum.panel === 'c' && datum.series === '3.5 μT'"}],
             "encoding": {"x": {"field": "sim", "type": "quantitative", "scale": {"domain": [6.12, 7.51]}, "axis": {"values": [6.2,6.4,6.6,6.8,7.0,7.2,7.4], "format": ".1f", "labelFlush": false, "tickCount": 10}, "title": "Simulated pH"}},
             "layer": [
              {"mark": {"type": "rule", "xOffset": -3.5, "color": "#4646ff", "strokeDash": [3,2], "clip": true}, "encoding": {"y": {"field": "lo", "type": "quantitative", "scale": {"domain": [5.6,7.6]}, "axis": {"values": [5.6,6.0,6.4,6.8,7.2,7.6], "format": ".1f", "tickCount": 10}, "title": "Estimated pH"}, "y2": {"field": "q1"}}},
              {"mark": {"type": "rule", "xOffset": -3.5, "color": "#4646ff", "strokeDash": [3,2], "clip": true}, "encoding": {"y": {"field": "q3", "type": "quantitative", "scale": {"domain": [5.6,7.6]}}, "y2": {"field": "hi"}}},
              {"mark": {"type": "tick", "orient": "horizontal", "size": 4, "thickness": 1, "xOffset": -3.5, "color": "#4646ff", "clip": true}, "encoding": {"y": {"field": "lo", "type": "quantitative", "scale": {"domain": [5.6,7.6]}}}},
              {"mark": {"type": "tick", "orient": "horizontal", "size": 4, "thickness": 1, "xOffset": -3.5, "color": "#4646ff", "clip": true}, "encoding": {"y": {"field": "hi", "type": "quantitative", "scale": {"domain": [5.6,7.6]}}}},
              {"mark": {"type": "bar", "width": 6, "filled": false, "strokeWidth": 1, "xOffset": -3.5, "clip": true}, "encoding": {"y": {"field": "q1", "type": "quantitative", "scale": {"domain": [5.6,7.6]}}, "y2": {"field": "q3"}, "color": {"field": "series", "type": "nominal", "scale": {"domain": ["3.5 μT", "1.5 μT"], "range": ["#4646ff", "#ff4646"]}, "legend": {"legendX": 156, "legendY": 112, "labelFontSize": 15, "labelColor": {"expr": "datum.index === 0 ? '#2f2fe0' : '#ff3030'"}}}}},
              {"mark": {"type": "tick", "orient": "horizontal", "size": 6, "thickness": 1, "xOffset": -3.5, "color": "#4646ff", "clip": true}, "encoding": {"y": {"field": "med", "type": "quantitative", "scale": {"domain": [5.6,7.6]}}}}
             ]},
            {"data": {"name": "boxes"}, "transform": [{"filter": "datum.panel === 'c' && datum.series === '1.5 μT'"}],
             "encoding": {"x": {"field": "sim", "type": "quantitative", "scale": {"domain": [6.12, 7.51]}}},
             "layer": [
              {"mark": {"type": "rule", "xOffset": 3.5, "color": "#ff4646", "strokeDash": [3,2], "clip": true}, "encoding": {"y": {"field": "lo", "type": "quantitative", "scale": {"domain": [5.6,7.6]}}, "y2": {"field": "q1"}}},
              {"mark": {"type": "rule", "xOffset": 3.5, "color": "#ff4646", "strokeDash": [3,2], "clip": true}, "encoding": {"y": {"field": "q3", "type": "quantitative", "scale": {"domain": [5.6,7.6]}}, "y2": {"field": "hi"}}},
              {"mark": {"type": "tick", "orient": "horizontal", "size": 4, "thickness": 1, "xOffset": 3.5, "color": "#ff4646", "clip": true}, "encoding": {"y": {"field": "lo", "type": "quantitative", "scale": {"domain": [5.6,7.6]}}}},
              {"mark": {"type": "tick", "orient": "horizontal", "size": 4, "thickness": 1, "xOffset": 3.5, "color": "#ff4646", "clip": true}, "encoding": {"y": {"field": "hi", "type": "quantitative", "scale": {"domain": [5.6,7.6]}}}},
              {"mark": {"type": "bar", "width": 6, "filled": false, "strokeWidth": 1, "xOffset": 3.5, "clip": true}, "encoding": {"y": {"field": "q1", "type": "quantitative", "scale": {"domain": [5.6,7.6]}}, "y2": {"field": "q3"}, "color": {"field": "series", "type": "nominal", "scale": {"domain": ["3.5 μT", "1.5 μT"], "range": ["#4646ff", "#ff4646"]}}}},
              {"mark": {"type": "tick", "orient": "horizontal", "size": 6, "thickness": 1, "xOffset": 3.5, "color": "#ff4646", "clip": true}, "encoding": {"y": {"field": "med", "type": "quantitative", "scale": {"domain": [5.6,7.6]}}}}
             ]},
            {"data": {"name": "outliers"}, "transform": [{"filter": "datum.panel === 'c' && datum.series === '3.5 μT'"}], "mark": {"type": "point", "shape": "M-1,0H1M0,-1V1", "filled": false, "size": 14, "strokeWidth": 1, "color": "#ff3a3a", "opacity": 1, "xOffset": -3.5, "clip": true}, "encoding": {"x": {"field": "sim", "type": "quantitative", "scale": {"domain": [6.12, 7.51]}}, "y": {"field": "v", "type": "quantitative", "scale": {"domain": [5.6,7.6]}}}},
            {"data": {"name": "outliers"}, "transform": [{"filter": "datum.panel === 'c' && datum.series === '1.5 μT'"}], "mark": {"type": "point", "shape": "M-1,0H1M0,-1V1", "filled": false, "size": 14, "strokeWidth": 1, "color": "#ff3a3a", "opacity": 1, "xOffset": 3.5, "clip": true}, "encoding": {"x": {"field": "sim", "type": "quantitative", "scale": {"domain": [6.12, 7.51]}}, "y": {"field": "v", "type": "quantitative", "scale": {"domain": [5.6,7.6]}}}}
          ]
        }
      ]
    },
    {
      "spacing": 22,
      "resolve": {"scale": {"x": "independent", "y": "independent", "color": "independent"}, "legend": {"color": "independent"}},
      "hconcat": [
        {
          "title": {"text": "d"},
          "width": 225, "height": 152,
          "layer": [
            {"data": {"name": "boxes"}, "transform": [{"filter": "datum.panel === 'd'"}],
             "encoding": {"x": {"field": "sim", "type": "quantitative", "scale": {"domain": [6.09, 7.485]}, "axis": {"values": [6.2,6.4,6.6,6.8,7.0,7.2,7.4], "format": ".1f", "labelFlush": false, "tickCount": 10}, "title": "Simulated pH"}},
             "layer": [
              {"mark": {"type": "rule", "color": "#4646ff", "strokeDash": [3,2], "clip": true}, "encoding": {"y": {"field": "lo", "type": "quantitative", "scale": {"domain": [5.6,7.6]}, "axis": {"values": [5.6,6.0,6.4,6.8,7.2,7.6], "format": ".1f", "tickCount": 10}, "title": "Estimated pH"}, "y2": {"field": "q1"}}},
              {"mark": {"type": "rule", "color": "#4646ff", "strokeDash": [3,2], "clip": true}, "encoding": {"y": {"field": "q3", "type": "quantitative", "scale": {"domain": [5.6,7.6]}}, "y2": {"field": "hi"}}},
              {"mark": {"type": "tick", "orient": "horizontal", "size": 4, "thickness": 1, "color": "#4646ff", "clip": true}, "encoding": {"y": {"field": "lo", "type": "quantitative", "scale": {"domain": [5.6,7.6]}}}},
              {"mark": {"type": "tick", "orient": "horizontal", "size": 4, "thickness": 1, "color": "#4646ff", "clip": true}, "encoding": {"y": {"field": "hi", "type": "quantitative", "scale": {"domain": [5.6,7.6]}}}},
              {"mark": {"type": "bar", "width": 7, "filled": false, "strokeWidth": 1, "color": "#4646ff", "clip": true}, "encoding": {"y": {"field": "q1", "type": "quantitative", "scale": {"domain": [5.6,7.6]}}, "y2": {"field": "q3"}}},
              {"mark": {"type": "tick", "orient": "horizontal", "size": 7, "thickness": 1, "color": "#4646ff", "clip": true}, "encoding": {"y": {"field": "med", "type": "quantitative", "scale": {"domain": [5.6,7.6]}}}}
             ]},
            {"data": {"name": "outliers"}, "transform": [{"filter": "datum.panel === 'd'"}], "mark": {"type": "point", "shape": "M-1,0H1M0,-1V1", "filled": false, "size": 14, "strokeWidth": 1, "color": "#ff3a3a", "opacity": 1, "clip": true}, "encoding": {"x": {"field": "sim", "type": "quantitative", "scale": {"domain": [6.09, 7.485]}}, "y": {"field": "v", "type": "quantitative", "scale": {"domain": [5.6,7.6]}}}},
            {"data": {"name": "fits"}, "transform": [{"filter": "datum.panel === 'd'"}], "mark": {"type": "line", "color": "#858585", "strokeDash": [4,3], "strokeWidth": 1, "clip": true}, "encoding": {"x": {"field": "sim", "type": "quantitative", "scale": {"domain": [6.09, 7.485]}}, "y": {"field": "fit", "type": "quantitative", "scale": {"domain": [5.6,7.6]}}}},
            {"data": {"name": "notes"}, "transform": [{"filter": "datum.panel === 'd'"}], "mark": {"type": "text", "align": "left", "baseline": "alphabetic", "fontSize": 15, "color": "#333333", "font": "Liberation Sans"}, "encoding": {"x": {"datum": 6.95}, "y": {"datum": 5.9}, "text": {"field": "r2", "type": "nominal"}}},
            {"data": {"name": "notes"}, "transform": [{"filter": "datum.panel === 'd'"}], "mark": {"type": "text", "align": "left", "baseline": "alphabetic", "fontSize": 15, "color": "#333333", "font": "Liberation Sans"}, "encoding": {"x": {"datum": 6.95}, "y": {"datum": 5.685}, "text": {"field": "slope", "type": "nominal"}}}
          ]
        },
        {
          "title": {"text": "e"},
          "width": 225, "height": 152,
          "layer": [
            {"data": {"name": "boxes"}, "transform": [{"filter": "datum.panel === 'e'"}],
             "encoding": {"x": {"field": "sim", "type": "quantitative", "scale": {"domain": [6.1, 7.48]}, "axis": {"values": [6.2,6.4,6.6,6.8,7.0,7.2,7.4], "format": ".1f", "labelFlush": false, "tickCount": 10}, "title": "Simulated pH"}},
             "layer": [
              {"mark": {"type": "rule", "color": "#4646ff", "strokeDash": [3,2], "clip": true}, "encoding": {"y": {"field": "lo", "type": "quantitative", "scale": {"domain": [5.6,7.6]}, "axis": {"values": [5.6,6.0,6.4,6.8,7.2,7.6], "format": ".1f", "tickCount": 10}, "title": "Estimated pH"}, "y2": {"field": "q1"}}},
              {"mark": {"type": "rule", "color": "#4646ff", "strokeDash": [3,2], "clip": true}, "encoding": {"y": {"field": "q3", "type": "quantitative", "scale": {"domain": [5.6,7.6]}}, "y2": {"field": "hi"}}},
              {"mark": {"type": "tick", "orient": "horizontal", "size": 4, "thickness": 1, "color": "#4646ff", "clip": true}, "encoding": {"y": {"field": "lo", "type": "quantitative", "scale": {"domain": [5.6,7.6]}}}},
              {"mark": {"type": "tick", "orient": "horizontal", "size": 4, "thickness": 1, "color": "#4646ff", "clip": true}, "encoding": {"y": {"field": "hi", "type": "quantitative", "scale": {"domain": [5.6,7.6]}}}},
              {"mark": {"type": "bar", "width": 7, "filled": false, "strokeWidth": 1, "color": "#4646ff", "clip": true}, "encoding": {"y": {"field": "q1", "type": "quantitative", "scale": {"domain": [5.6,7.6]}}, "y2": {"field": "q3"}}},
              {"mark": {"type": "tick", "orient": "horizontal", "size": 7, "thickness": 1, "color": "#4646ff", "clip": true}, "encoding": {"y": {"field": "med", "type": "quantitative", "scale": {"domain": [5.6,7.6]}}}}
             ]},
            {"data": {"name": "outliers"}, "transform": [{"filter": "datum.panel === 'e'"}], "mark": {"type": "point", "shape": "M-1,0H1M0,-1V1", "filled": false, "size": 14, "strokeWidth": 1, "color": "#ff3a3a", "opacity": 1, "clip": true}, "encoding": {"x": {"field": "sim", "type": "quantitative", "scale": {"domain": [6.1, 7.48]}}, "y": {"field": "v", "type": "quantitative", "scale": {"domain": [5.6,7.6]}}}},
            {"data": {"name": "fits"}, "transform": [{"filter": "datum.panel === 'e'"}], "mark": {"type": "line", "color": "#858585", "strokeDash": [4,3], "strokeWidth": 1, "clip": true}, "encoding": {"x": {"field": "sim", "type": "quantitative", "scale": {"domain": [6.1, 7.48]}}, "y": {"field": "fit", "type": "quantitative", "scale": {"domain": [5.6,7.6]}}}},
            {"data": {"name": "notes"}, "transform": [{"filter": "datum.panel === 'e'"}], "mark": {"type": "text", "align": "left", "baseline": "alphabetic", "fontSize": 15, "color": "#333333", "font": "Liberation Sans"}, "encoding": {"x": {"datum": 6.96}, "y": {"datum": 5.885}, "text": {"field": "r2", "type": "nominal"}}},
            {"data": {"name": "notes"}, "transform": [{"filter": "datum.panel === 'e'"}], "mark": {"type": "text", "align": "left", "baseline": "alphabetic", "fontSize": 15, "color": "#333333", "font": "Liberation Sans"}, "encoding": {"x": {"datum": 6.96}, "y": {"datum": 5.67}, "text": {"field": "slope", "type": "nominal"}}}
          ]
        },
        {
          "title": {"text": "f"},
          "width": 225, "height": 152,
          "layer": [
            {"data": {"name": "boxes"}, "transform": [{"filter": "datum.panel === 'f'"}],
             "encoding": {"x": {"field": "sim", "type": "quantitative", "scale": {"domain": [6.11, 7.49]}, "axis": {"values": [6.2,6.4,6.6,6.8,7.0,7.2,7.4], "format": ".1f", "labelFlush": false, "tickCount": 10}, "title": "Simulated pH"}},
             "layer": [
              {"mark": {"type": "rule", "color": "#ff4646", "strokeDash": [3,2], "clip": true}, "encoding": {"y": {"field": "lo", "type": "quantitative", "scale": {"domain": [5.6,7.6]}, "axis": {"values": [5.6,6.0,6.4,6.8,7.2,7.6], "format": ".1f", "tickCount": 10}, "title": "Estimated pH"}, "y2": {"field": "q1"}}},
              {"mark": {"type": "rule", "color": "#ff4646", "strokeDash": [3,2], "clip": true}, "encoding": {"y": {"field": "q3", "type": "quantitative", "scale": {"domain": [5.6,7.6]}}, "y2": {"field": "hi"}}},
              {"mark": {"type": "tick", "orient": "horizontal", "size": 4, "thickness": 1, "color": "#ff4646", "clip": true}, "encoding": {"y": {"field": "lo", "type": "quantitative", "scale": {"domain": [5.6,7.6]}}}},
              {"mark": {"type": "tick", "orient": "horizontal", "size": 4, "thickness": 1, "color": "#ff4646", "clip": true}, "encoding": {"y": {"field": "hi", "type": "quantitative", "scale": {"domain": [5.6,7.6]}}}},
              {"mark": {"type": "bar", "width": 7, "filled": false, "strokeWidth": 1, "color": "#ff4646", "clip": true}, "encoding": {"y": {"field": "q1", "type": "quantitative", "scale": {"domain": [5.6,7.6]}}, "y2": {"field": "q3"}}},
              {"mark": {"type": "tick", "orient": "horizontal", "size": 7, "thickness": 1, "color": "#ff4646", "clip": true}, "encoding": {"y": {"field": "med", "type": "quantitative", "scale": {"domain": [5.6,7.6]}}}}
             ]},
            {"data": {"name": "outliers"}, "transform": [{"filter": "datum.panel === 'f'"}], "mark": {"type": "point", "shape": "M-1,0H1M0,-1V1", "filled": false, "size": 14, "strokeWidth": 1, "color": "#ff3a3a", "opacity": 1, "clip": true}, "encoding": {"x": {"field": "sim", "type": "quantitative", "scale": {"domain": [6.11, 7.49]}}, "y": {"field": "v", "type": "quantitative", "scale": {"domain": [5.6,7.6]}}}},
            {"data": {"name": "fits"}, "transform": [{"filter": "datum.panel === 'f'"}], "mark": {"type": "line", "color": "#858585", "strokeDash": [4,3], "strokeWidth": 1, "clip": true}, "encoding": {"x": {"field": "sim", "type": "quantitative", "scale": {"domain": [6.11, 7.49]}}, "y": {"field": "fit", "type": "quantitative", "scale": {"domain": [5.6,7.6]}}}},
            {"data": {"name": "notes"}, "transform": [{"filter": "datum.panel === 'f'"}], "mark": {"type": "text", "align": "left", "baseline": "alphabetic", "fontSize": 15, "color": "#333333", "font": "Liberation Sans"}, "encoding": {"x": {"datum": 6.98}, "y": {"datum": 5.93}, "text": {"field": "r2", "type": "nominal"}}},
            {"data": {"name": "notes"}, "transform": [{"filter": "datum.panel === 'f'"}], "mark": {"type": "text", "align": "left", "baseline": "alphabetic", "fontSize": 15, "color": "#333333", "font": "Liberation Sans"}, "encoding": {"x": {"datum": 6.98}, "y": {"datum": 5.715}, "text": {"field": "slope", "type": "nominal"}}}
          ]
        }
      ]
    }
  ]
}
